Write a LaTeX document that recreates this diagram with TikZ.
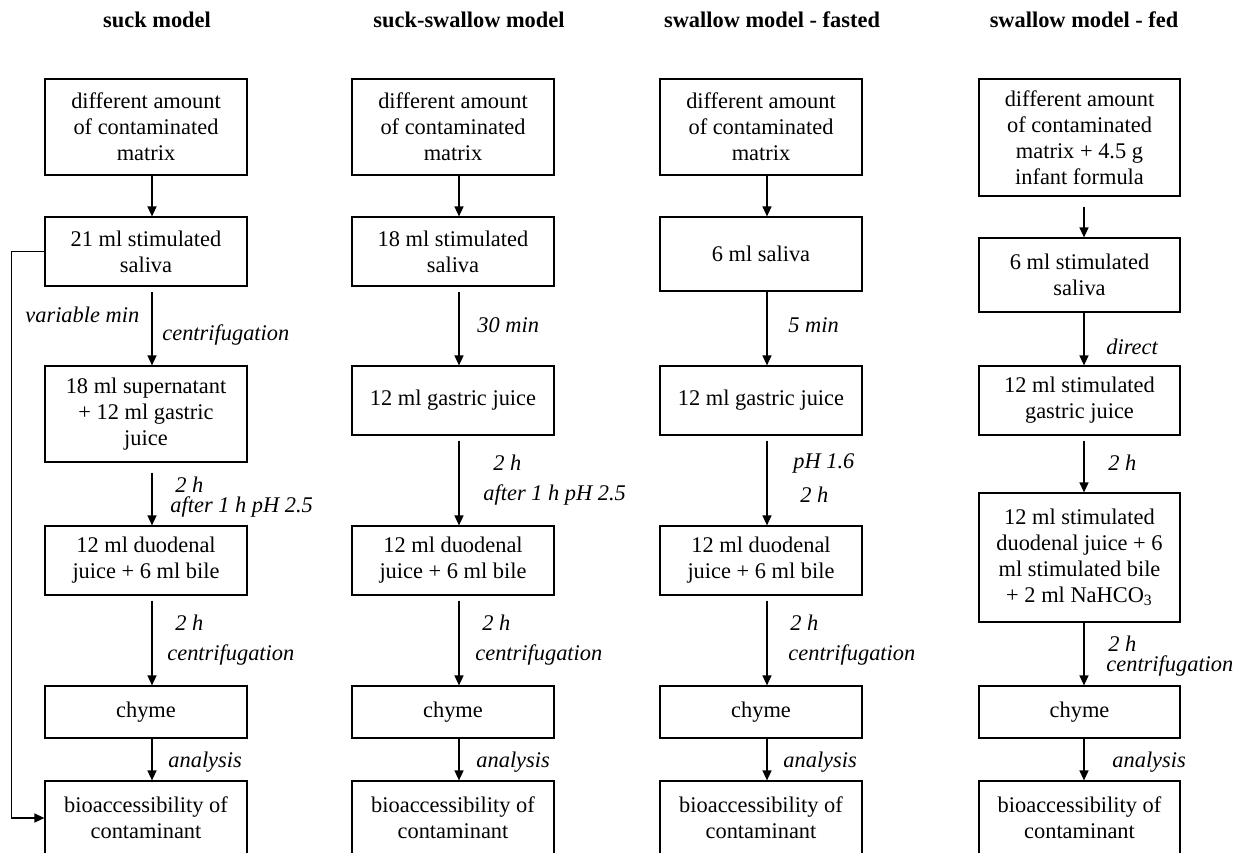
\documentclass[tikz,border=0pt]{standalone}
\usepackage{fontspec}
\setmainfont{Liberation Serif}
\usetikzlibrary{arrows.meta}
\newcommand\mybox[6]{\node[box,minimum width={(#4-#2)*0.5pt},minimum height={(#5-#3)*0.5pt}] (#1) at ({(#2+#4)/2},{(#3+#5)/2}) {#6};}
\newcommand\myarr[4]{\draw[arr,shorten <={#3*0.5pt}] ([xshift=#4]#1.south) -- ([xshift=#4]#2.north);}
\newcommand\mylab[4]{\node[lab] (#1) at (#2,#3) {#4};}
\begin{document}
\begin{tikzpicture}[x=0.5pt,y=-0.5pt,
  box/.style={draw,line width=0.6pt,inner sep=0pt,align=center,font=\fontsize{11.2}{13}\selectfont},
  lab/.style={anchor=west,inner sep=0pt,font=\fontsize{11.2}{13}\selectfont\itshape},
  ttl/.style={inner sep=0pt,font=\fontsize{11.2}{13}\selectfont\bfseries},
  arr/.style={line width=0.7pt,-{Triangle[length=5pt,width=4.5pt]}}]
\useasboundingbox (0,0) rectangle (1241,852);
% titles
\node[ttl] (t1) at (157,20) {suck model};
\node[ttl] (t2) at (469,20) {suck-swallow model};
\node[ttl] (t3) at (772,20) {swallow model - fasted};
\node[ttl] (t4) at (1084,20) {swallow model - fed};
% column 1
\mybox{a1}{45}{79}{247}{175}{different amount\\of contaminated\\matrix}
\mybox{a2}{45}{217}{247}{286}{21 ml stimulated\\saliva}
\mybox{a3}{45}{366}{247}{462}{18 ml supernatant\\+ 12 ml gastric\\juice}
\mybox{a4}{45}{526}{247}{595}{12 ml duodenal\\juice + 6 ml bile}
\mybox{a5}{45}{686}{247}{738}{chyme}
\mybox{a6}{45}{781}{247}{855}{bioaccessibility of\\contaminant}
\myarr{a1}{a2}{0}{3pt}
\myarr{a2}{a3}{5}{3pt}
\myarr{a3}{a4}{10}{3pt}
\myarr{a4}{a5}{5}{3pt}
\myarr{a5}{a6}{0}{3pt}
\draw[arr] (a2.west) -- ++(-33,0) |- (a6.west);
\mylab{la1}{25}{315}{variable min}
\mylab{la2}{162}{335}{centrifugation}
\mylab{la3}{175}{485}{2 h}
\mylab{la4}{170}{507}{after 1 h pH 2.5}
\mylab{la5}{175}{623}{2 h}
\mylab{la6}{167}{655}{centrifugation}
\mylab{la7}{168}{762}{analysis}
% column 2
\mybox{b1}{352}{79}{554}{175}{different amount\\of contaminated\\matrix}
\mybox{b2}{352}{217}{554}{286}{18 ml stimulated\\saliva}
\mybox{b3}{352}{366}{554}{435}{12 ml gastric juice}
\mybox{b4}{352}{526}{554}{595}{12 ml duodenal\\juice + 6 ml bile}
\mybox{b5}{352}{686}{554}{738}{chyme}
\mybox{b6}{352}{781}{554}{855}{bioaccessibility of\\contaminant}
\myarr{b1}{b2}{0}{3pt}
\myarr{b2}{b3}{5}{3pt}
\myarr{b3}{b4}{5}{3pt}
\myarr{b4}{b5}{5}{3pt}
\myarr{b5}{b6}{0}{3pt}
\mylab{lb1}{477}{325}{30 min}
\mylab{lb2}{493}{463}{2 h}
\mylab{lb3}{483}{495}{after 1 h pH 2.5}
\mylab{lb4}{482}{623}{2 h}
\mylab{lb5}{475}{655}{centrifugation}
\mylab{lb6}{476}{762}{analysis}
% column 3
\mybox{c1}{660}{79}{862}{175}{different amount\\of contaminated\\matrix}
\mybox{c2}{660}{217}{862}{291}{6 ml saliva}
\mybox{c3}{660}{366}{862}{435}{12 ml gastric juice}
\mybox{c4}{660}{526}{862}{595}{12 ml duodenal\\juice + 6 ml bile}
\mybox{c5}{660}{686}{862}{738}{chyme}
\mybox{c6}{660}{781}{862}{855}{bioaccessibility of\\contaminant}
\myarr{c1}{c2}{0}{3pt}
\myarr{c2}{c3}{0}{3pt}
\myarr{c3}{c4}{5}{3pt}
\myarr{c4}{c5}{5}{3pt}
\myarr{c5}{c6}{0}{3pt}
\mylab{lc1}{788}{325}{5 min}
\mylab{lc2}{793}{463}{pH 1.6}
\mylab{lc3}{800}{495}{2 h}
\mylab{lc4}{790}{623}{2 h}
\mylab{lc5}{788}{655}{centrifugation}
\mylab{lc6}{783}{762}{analysis}
% column 4
\mybox{d1}{979}{79}{1180}{196}{different amount\\of contaminated\\matrix + 4.5 g\\infant formula}
\mybox{d2}{979}{238}{1180}{312}{6 ml stimulated\\saliva}
\mybox{d3}{979}{366}{1180}{435}{12 ml stimulated\\gastric juice}
\mybox{d4}{979}{493}{1180}{622}{12 ml stimulated\\duodenal juice + 6\\ml stimulated bile\\+ 2 ml NaHCO\textsubscript{3}}
\mybox{d5}{979}{686}{1180}{738}{chyme}
\mybox{d6}{979}{781}{1180}{855}{bioaccessibility of\\contaminant}
\myarr{d1}{d2}{10}{2.25pt}
\myarr{d2}{d3}{0}{2.25pt}
\myarr{d3}{d4}{5}{2.25pt}
\myarr{d4}{d5}{0}{2.25pt}
\myarr{d5}{d6}{0}{2.25pt}
\mylab{ld1}{1106}{347}{direct}
\mylab{ld2}{1108}{463}{2 h}
\mylab{ld3}{1108}{644}{2 h}
\mylab{ld4}{1106}{666}{centrifugation}
\mylab{ld5}{1112}{762}{analysis}
\end{tikzpicture}
\end{document}
